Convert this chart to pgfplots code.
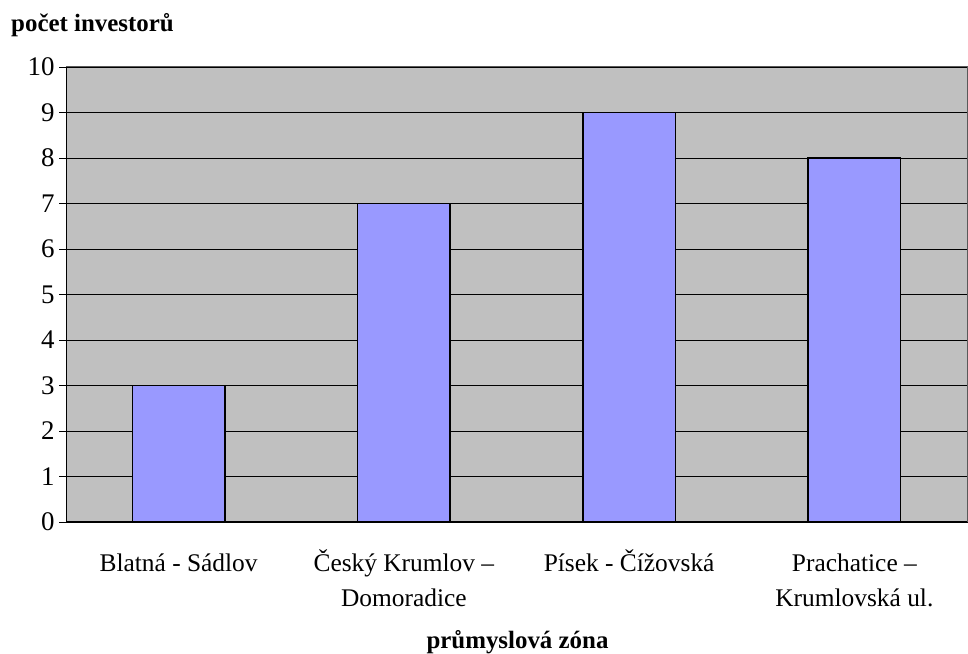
\documentclass[border=0pt]{standalone}
\usepackage{fontspec}
\setmainfont{Liberation Serif}
\usepackage{pgfplots}
\pgfplotsset{compat=1.18}
\definecolor{plotbg}{HTML}{C0C0C0}
\definecolor{barfill}{HTML}{9999FF}
\newcommand{\st}{\rule{0pt}{24bp}}
\begin{document}
\begin{tikzpicture}[x=1bp,y=1bp]
\useasboundingbox (0,0) rectangle (968,654);
\begin{axis}[
  at={(66bp,132bp)}, anchor=south west,
  scale only axis, width=901bp, height=455bp,
  xmin=-0.5, xmax=3.5, ymin=0, ymax=10,
  ytick={0,1,...,10},
  xtick={0,1,2,3},
  xticklabels={{\st Blatná - Sádlov},{\st Český Krumlov –\\Domoradice},{\st Písek - Čížovská},{\st Prachatice –\\Krumlovská ul.}},
  extra x ticks={-0.5,0.5,1.5,2.5,3.5},
  extra x tick labels={},
  extra x tick style={major tick length=7bp, tick style={black, line width=0.8bp}, tick align=outside, grid=none},
  x tick style={draw=none},
  major tick length=7bp,
  tick align=outside,
  ytick style={black, line width=0.8bp},
  ymajorgrids, grid style={black, line width=0.8bp},
  axis background/.style={fill=plotbg},
  axis line style={draw=none},
  xticklabel style={font=\fontsize{25.5}{35}\selectfont, align=center, anchor=north, yshift=-15bp},
  yticklabel style={font=\fontsize{27}{32}\selectfont, xshift=-1bp},
  ybar, bar width=0.41,
  clip=false,
  /pgf/number format/assume math mode=true,
]
\addplot[fill=barfill, draw=black, line width=1.5bp] coordinates {(0,3) (1,7) (2,9) (3,8)};
\draw[gray!70!black, line width=1bp] (rel axis cs:0,1) -- (rel axis cs:1,1) -- (rel axis cs:1,0);
\draw[black, line width=1bp] (rel axis cs:0,1) -- (rel axis cs:0,0) -- (rel axis cs:1,0);
\end{axis}
\node[anchor=base west, inner sep=0pt, font=\fontsize{25}{30}\selectfont\bfseries] at (11,622) {počet investorů};
\node[anchor=base, inner sep=0pt, font=\fontsize{25}{30}\selectfont\bfseries] at (517.5,5) {průmyslová zóna};
\end{tikzpicture}
\end{document}
